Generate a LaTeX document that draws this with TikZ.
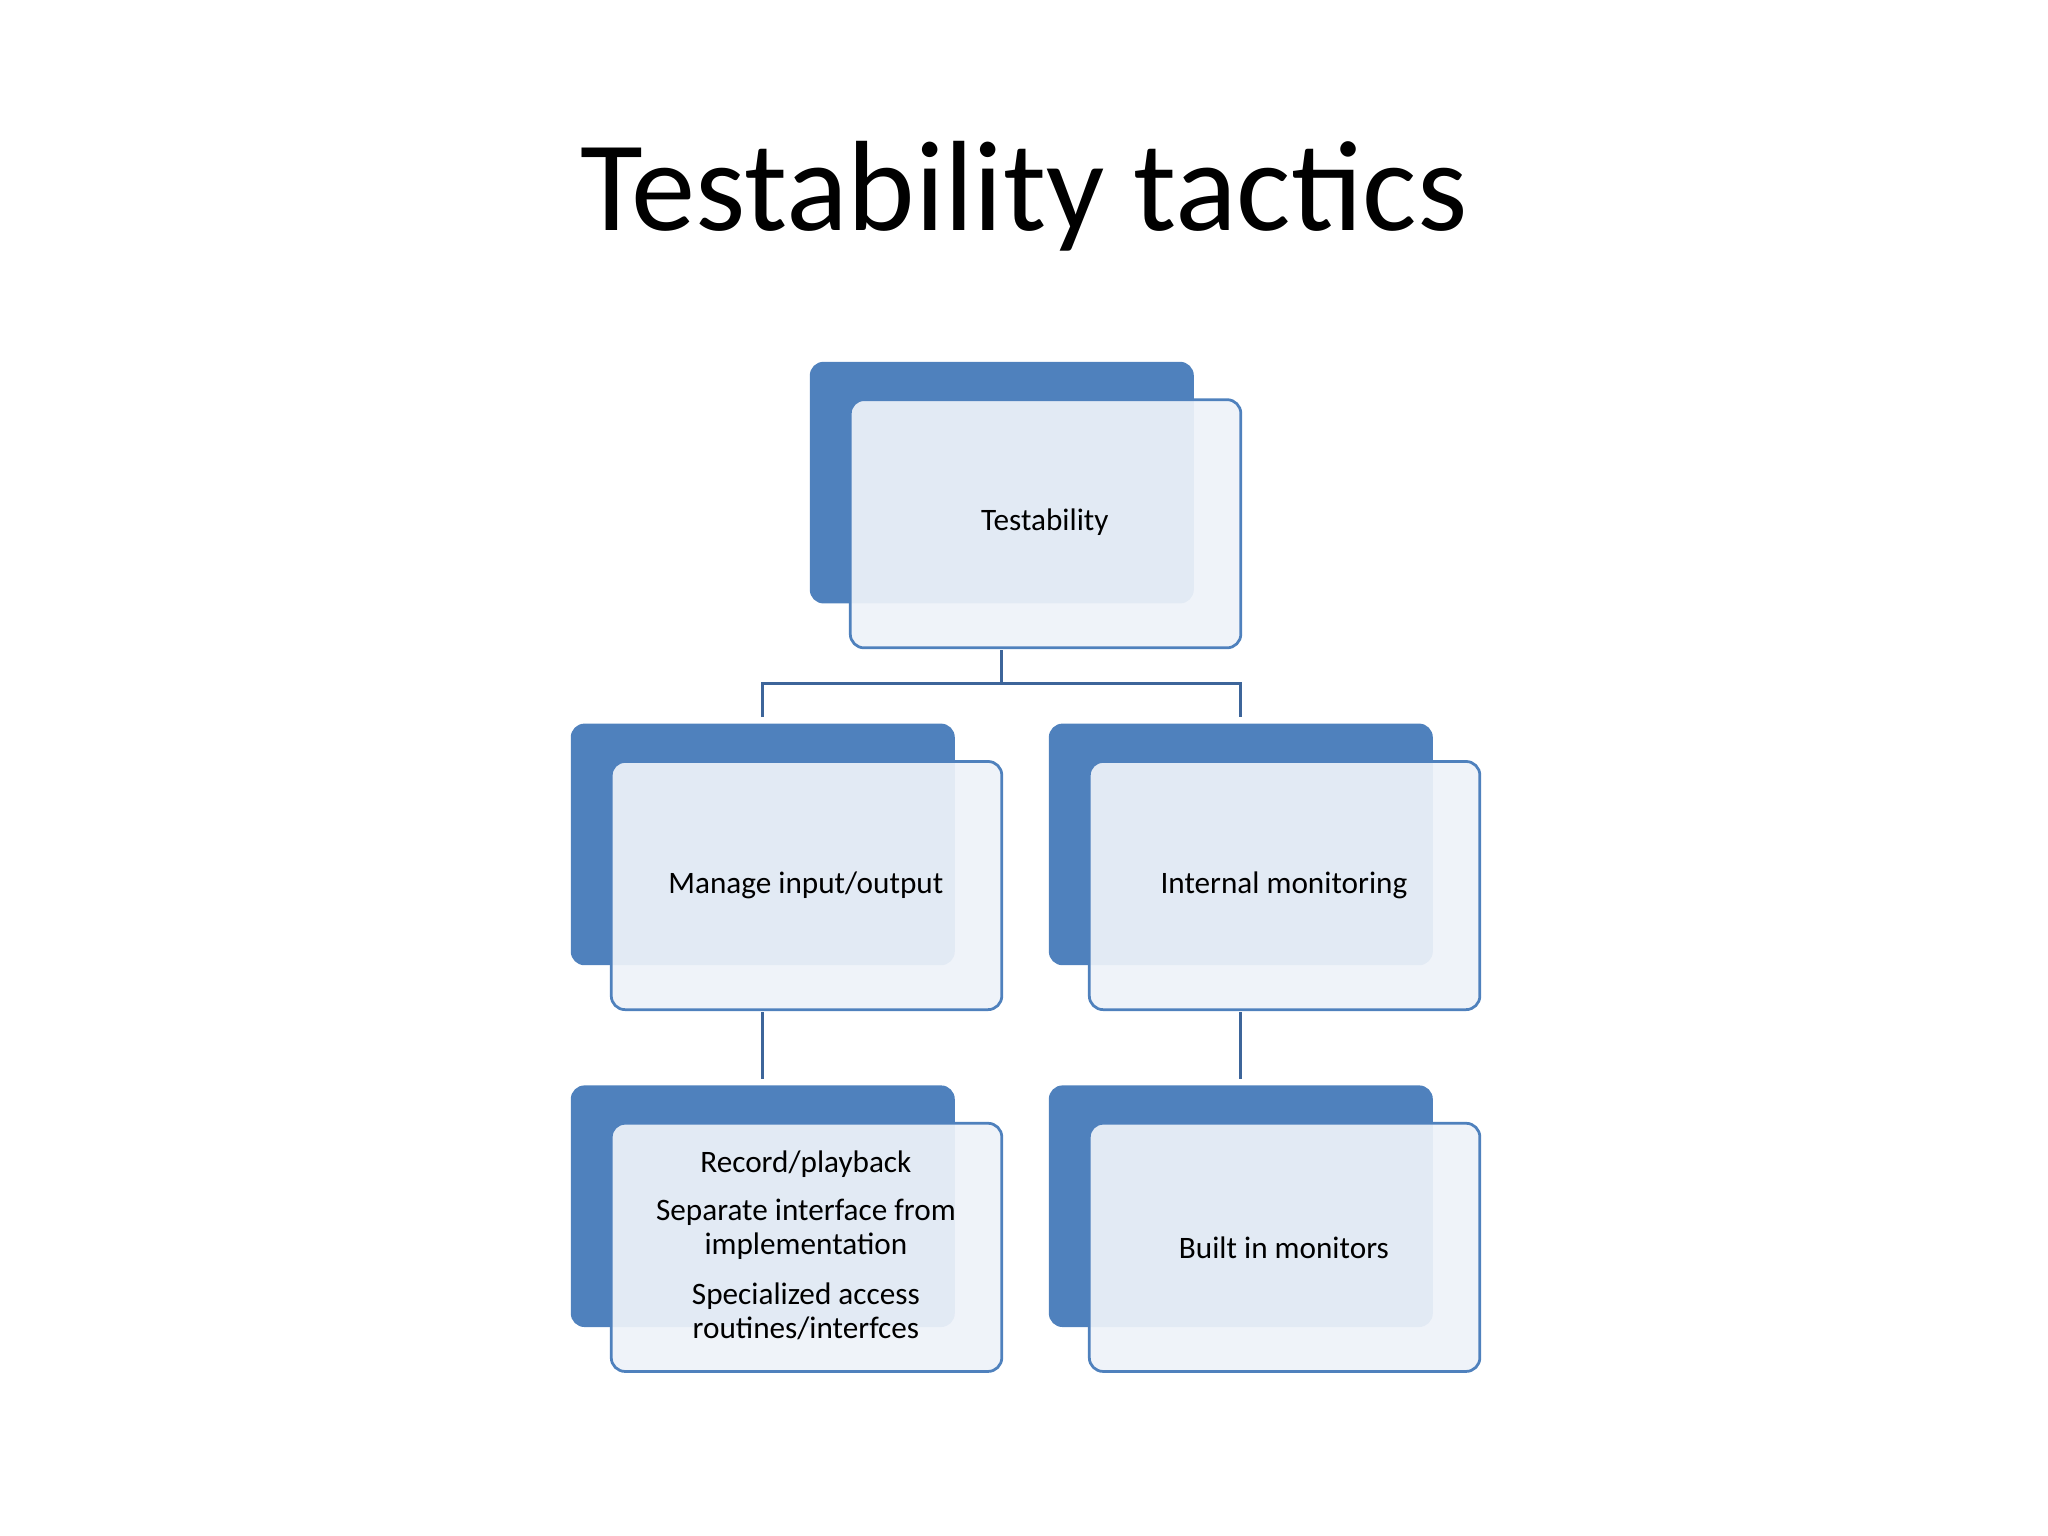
\documentclass[tikz,border=0pt]{standalone}
\usepackage{fontspec}
\setmainfont{Carlito}
\begin{document}
\begin{tikzpicture}[x=0.05cm,y=-0.05cm,
  back/.style={fill=blue!45!cyan!40!black!0, fill={rgb,255:red,79;green,129;blue,189}, rounded corners=15pt, minimum width=294*0.05cm, minimum height=185*0.05cm, inner sep=0pt},
  front/.style={draw={rgb,255:red,79;green,129;blue,189}, line width=3pt, fill={rgb,255:red,238;green,242;blue,249}, fill opacity=0.93, text opacity=1, rounded corners=15pt, minimum width=299*0.05cm, minimum height=190*0.05cm, inner sep=0pt},
  lbl/.style={font=\fontsize{34}{40}\selectfont, align=center},
  conn/.style={draw={rgb,255:red,61;green,101;blue,154}, line width=3.5pt}]
\useasboundingbox (0,0) rectangle (1568,1176);
\node[font=\fontsize{140}{160}\selectfont] (title) at (784,150) {Testability tactics};
% boxes
\node[back] (b0) at (767,369.5) {};
\node[front] (f0) at (800.5,401) {};
\node[back] (b1) at (584,646.5) {};
\node[front] (f1) at (617.5,678) {};
\node[back] (b2) at (950,646.5) {};
\node[front] (f2) at (983.5,678) {};
\node[back] (b3) at (584,923.5) {};
\node[front] (f3) at (617.5,955) {};
\node[back] (b4) at (950,923.5) {};
\node[front] (f4) at (983.5,955) {};
% labels
\node[lbl] (t0) at (800,400) {Testability};
\node[lbl] (t1) at (617,678) {Manage input/output};
\node[lbl] (t2) at (983,678) {Internal monitoring};
\node[lbl] (t4) at (983,955) {Built in monitors};
\node[lbl] (t3a) at (617,891) {Record/playback};
\node[lbl,font=\fontsize{34}{37}\selectfont] (t3b) at (617,941) {Separate interface from\\implementation};
\node[lbl,font=\fontsize{34}{37}\selectfont] (t3c) at (617,1004) {Specialized access\\routines/interfces};
% connectors
\coordinate (j) at (767,523);
\draw[conn] (767,498) -- (j);
\draw[conn] (f1.north -| 584,0) ++(0,-34) coordinate (p1);
\draw[conn] (584,549) |- (950,523) -- (950,549);
\draw[conn] (584,775) -- (584,826);
\draw[conn] (950,775) -- (950,826);
\end{tikzpicture}
\end{document}
